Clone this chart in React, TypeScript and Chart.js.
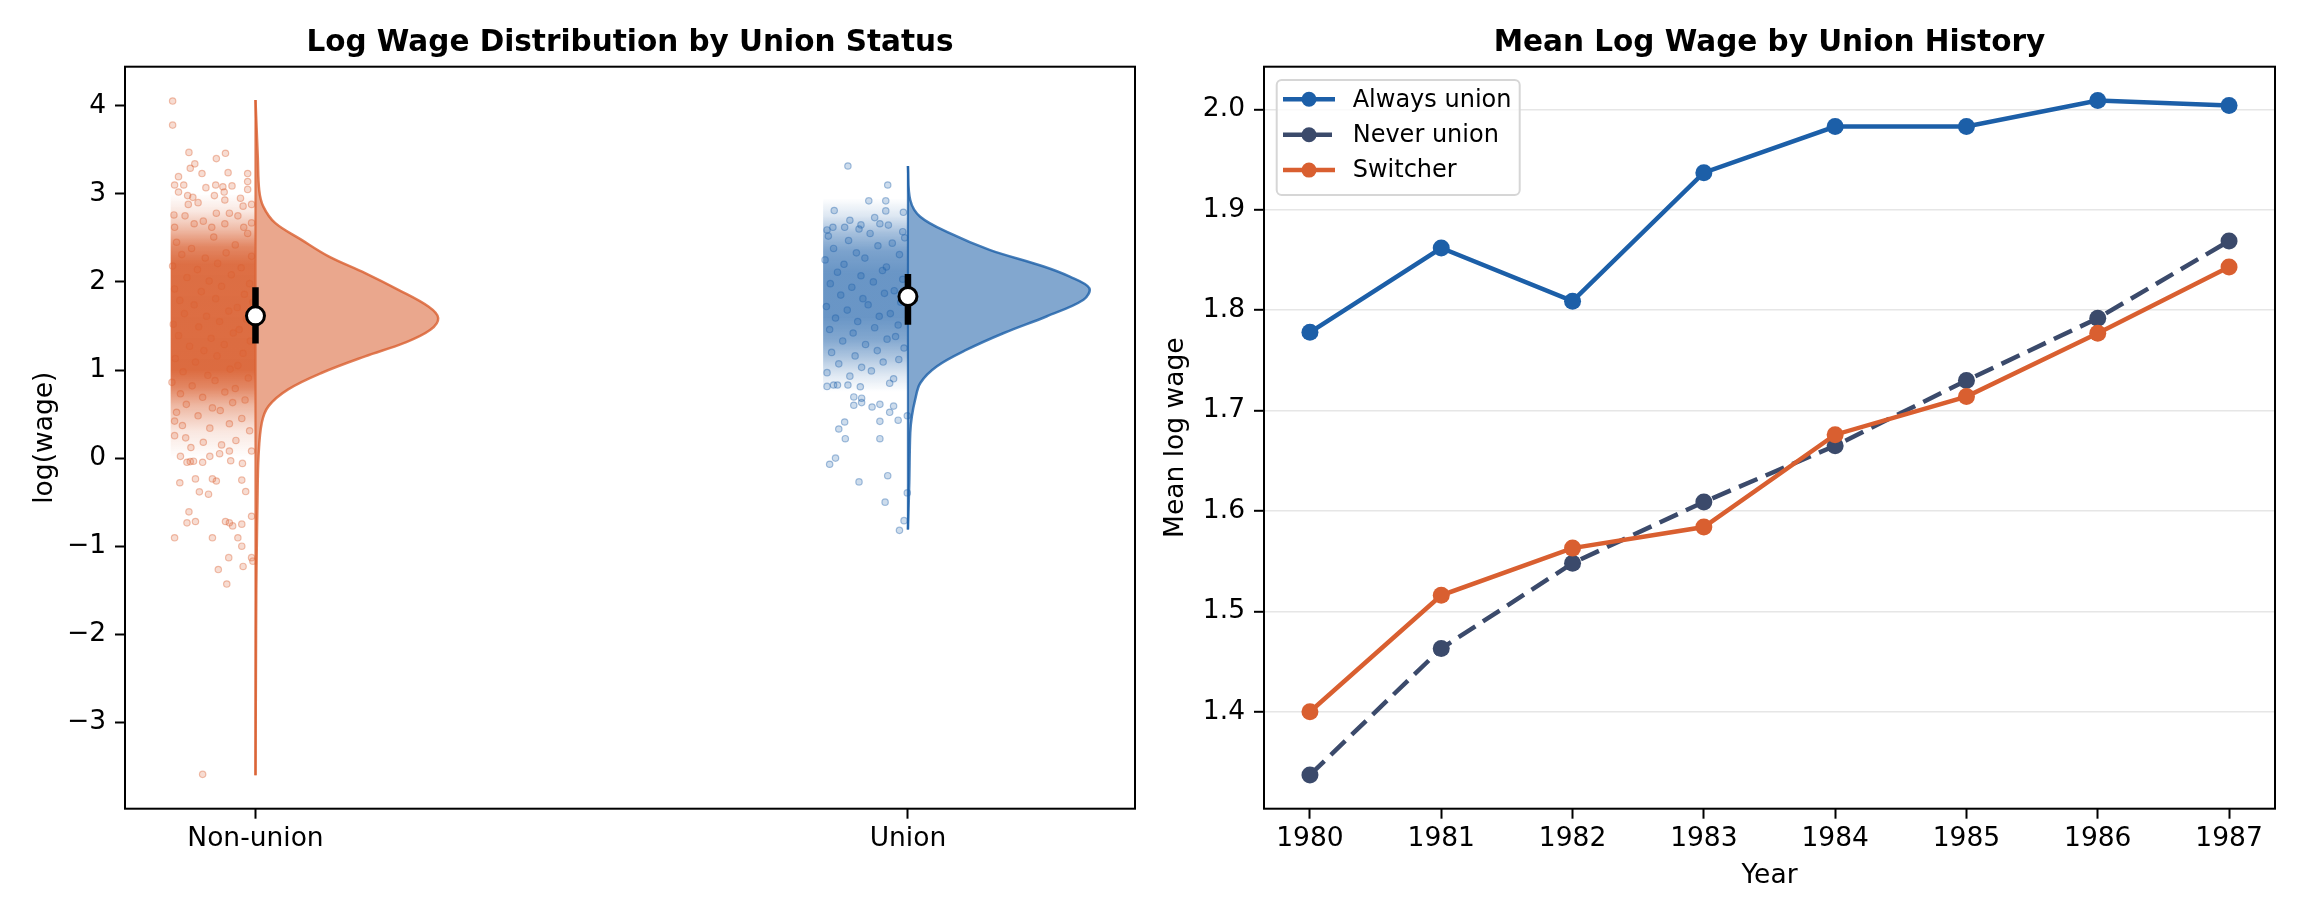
import { useEffect, useRef } from "react";
import { Chart, registerables } from "chart.js";

Chart.register(...registerables);

const FONT = "'DejaVu Sans', 'Liberation Sans', sans-serif";
Chart.defaults.font.family = FONT;
Chart.defaults.color = "#000";

// ---------------- Left panel data ----------------
const groups = ["Non-union", "Union"];
const yTicksLeft = [-3, -2, -1, 0, 1, 2, 3, 4];

// violin half-profile (value, half width in category units)
const nonUnionViolinY = [4.065, 3.42, 3.04, 2.855, 2.67, 2.48, 2.29, 2.1, 1.91, 1.72, 1.59, 1.457, 1.31, 1.155, 0.966, 0.78, 0.59, 0.4, 0.02, -0.5, -1.0, -1.5, -2.5, -3.6];
const nonUnionViolinW = [0, 0.0035, 0.0057, 0.012, 0.03, 0.07, 0.112, 0.168, 0.219, 0.265, 0.28, 0.268, 0.229, 0.168, 0.101, 0.05, 0.02, 0.0096, 0.0046, 0.003, 0.002, 0.0012, 0.0006, 0];
const unionViolinY = [3.316, 2.93, 2.74, 2.553, 2.364, 2.175, 2.06, 1.93, 1.797, 1.61, 1.42, 1.23, 1.04, 0.853, 0.663, 0.474, 0.286, -0.28, -0.81];
const unionViolinW = [0, 0.0035, 0.0188, 0.064, 0.125, 0.208, 0.248, 0.278, 0.269, 0.213, 0.147, 0.09, 0.044, 0.019, 0.011, 0.006, 0.0035, 0.002, 0];

// quartiles and median
const nonUnionBox = [1.3, 1.615, 1.94];
const unionBox = [1.514, 1.835, 2.09];

// density of the dense jittered cloud (value, opacity)
const nonUnionDensityY = [3.0, 2.8, 2.6, 2.4, 2.2, 1.0, 0.8, 0.6, 0.3, 0.0];
const nonUnionDensityA = [0, 0.15, 0.42, 0.75, 0.9, 0.92, 0.75, 0.45, 0.15, 0];
const unionDensityY = [2.95, 2.75, 2.55, 2.35, 2.1, 1.6, 1.35, 1.15, 0.95, 0.75];
const unionDensityA = [0, 0.15, 0.4, 0.58, 0.66, 0.66, 0.55, 0.36, 0.15, 0];
const jitterSpan = [-0.13, 0];

// individual jittered points [offset, log wage]
const nonUnionPoints: [number, number][] = [
  [-0.127, 4.053], [-0.127, 3.78], [-0.102, 3.47], [-0.046, 3.46], [-0.06, 3.4], [-0.093, 3.34], [-0.1, 3.29],
  [-0.042, 3.24], [-0.082, 3.23], [-0.012, 3.23], [-0.118, 3.195], [-0.012, 3.14], [-0.124, 3.1], [-0.11, 3.1],
  [-0.076, 3.07], [-0.061, 3.1], [-0.05, 3.08], [-0.036, 3.09], [-0.012, 3.05], [-0.118, 3.02], [-0.104, 2.98],
  [-0.063, 2.98], [-0.096, 2.96], [-0.048, 3.02], [-0.023, 2.95], [-0.047, 2.93], [-0.088, 2.9], [-0.006, 2.88],
  [-0.019, 2.86], [-0.103, 2.88], [-0.125, 2.76], [-0.06, 2.78], [-0.04, 2.78], [-0.027, 2.75], [-0.006, 2.67],
  [-0.108, 2.75], [-0.08, 2.69], [-0.094, 2.66], [-0.047, 2.66], [-0.124, 2.62], [-0.018, 2.62], [-0.067, 2.62],
  [-0.121, 2.45], [-0.098, 2.38], [-0.064, 2.51], [-0.031, 2.42], [-0.012, 2.55], [-0.113, 2.31], [-0.077, 2.27],
  [-0.045, 2.33], [-0.006, 2.29], [-0.127, 2.18], [-0.089, 2.14], [-0.058, 2.21], [-0.022, 2.16], [-0.105, 2.05],
  [-0.071, 2.01], [-0.037, 2.08], [-0.009, 1.98], [-0.124, 1.92], [-0.083, 1.89], [-0.052, 1.95], [-0.017, 1.86],
  [-0.116, 1.79], [-0.094, 1.74], [-0.061, 1.81], [-0.028, 1.71], [-0.004, 1.77], [-0.109, 1.64], [-0.075, 1.61],
  [-0.041, 1.67], [-0.014, 1.58], [-0.126, 1.52], [-0.087, 1.49], [-0.055, 1.55], [-0.025, 1.46], [-0.118, 1.39],
  [-0.068, 1.36], [-0.034, 1.42], [-0.008, 1.33], [-0.101, 1.27], [-0.079, 1.22], [-0.048, 1.29], [-0.019, 1.19],
  [-0.123, 1.13], [-0.092, 1.09], [-0.059, 1.16], [-0.027, 1.05], [-0.111, 0.98], [-0.073, 0.94], [-0.039, 1.01],
  [-0.011, 0.91], [-0.128, 0.86], [-0.097, 0.82], [-0.062, 0.88], [-0.031, 0.79], [-0.115, 0.73], [-0.081, 0.69],
  [-0.047, 0.75], [-0.016, 0.66], [-0.106, 0.61], [-0.066, 0.57], [-0.035, 0.63], [-0.121, 0.52], [-0.088, 0.48],
  [-0.054, 0.54], [-0.021, 0.45], [-0.124, 0.42], [-0.112, 0.37], [-0.07, 0.34], [-0.04, 0.39], [-0.009, 0.31],
  [-0.124, 0.255], [-0.107, 0.23], [-0.115, 0.02], [-0.1, -0.04], [-0.095, -0.035], [-0.07, 0.02], [-0.02, -0.06],
  [-0.055, 0.05], [-0.04, 0.08], [-0.006, 0.08], [-0.099, 0.12], [-0.052, 0.15], [-0.08, 0.18], [-0.03, 0.2],
  [-0.105, -0.048], [-0.081, -0.048], [-0.038, -0.03], [-0.116, -0.28], [-0.092, -0.236], [-0.066, -0.236],
  [-0.06, -0.26], [-0.021, -0.25], [-0.086, -0.383], [-0.072, -0.41], [-0.015, -0.38], [-0.102, -0.61],
  [-0.105, -0.735], [-0.092, -0.72], [-0.046, -0.72], [-0.04, -0.735], [-0.035, -0.77], [-0.021, -0.75],
  [-0.006, -0.66], [-0.124, -0.905], [-0.066, -0.905], [-0.027, -0.905], [-0.021, -1.0], [-0.006, -1.13],
  [-0.041, -1.13], [-0.004, -1.17], [-0.019, -1.23], [-0.057, -1.265], [-0.044, -1.43], [-0.081, -3.59],
];
const unionPoints: [number, number][] = [
  [-0.092, 3.316], [-0.031, 3.1], [-0.06, 2.92], [-0.034, 2.92], [-0.034, 2.806], [-0.113, 2.81], [-0.089, 2.7],
  [-0.051, 2.73], [-0.007, 2.79], [-0.072, 2.647], [-0.03, 2.645], [-0.124, 2.59], [-0.097, 2.62], [-0.008, 2.57],
  [-0.115, 2.62], [-0.043, 2.66], [-0.075, 2.6],
  [-0.122, 2.52], [-0.091, 2.47], [-0.058, 2.55], [-0.024, 2.44], [-0.005, 2.5], [-0.114, 2.38], [-0.079, 2.33],
  [-0.046, 2.41], [-0.013, 2.31], [-0.127, 2.25], [-0.098, 2.2], [-0.066, 2.27], [-0.033, 2.17], [-0.108, 2.11],
  [-0.072, 2.07], [-0.039, 2.13], [-0.008, 2.03], [-0.119, 1.98], [-0.086, 1.94], [-0.053, 2.0], [-0.021, 1.9],
  [-0.103, 1.85], [-0.069, 1.81], [-0.036, 1.87], [-0.011, 1.77], [-0.125, 1.72], [-0.093, 1.68], [-0.061, 1.74],
  [-0.027, 1.64], [-0.111, 1.59], [-0.077, 1.55], [-0.044, 1.61], [-0.015, 1.51], [-0.12, 1.46], [-0.084, 1.42],
  [-0.051, 1.48], [-0.019, 1.38], [-0.1, 1.33], [-0.065, 1.29], [-0.032, 1.35], [-0.006, 1.25], [-0.117, 1.2],
  [-0.081, 1.16], [-0.047, 1.22], [-0.014, 1.12], [-0.106, 1.07], [-0.071, 1.03], [-0.038, 1.09], [-0.124, 0.97],
  [-0.089, 0.93], [-0.056, 0.99], [-0.022, 0.9],
  [-0.124, 0.814], [-0.114, 0.83], [-0.108, 0.83], [-0.092, 0.83], [-0.073, 0.81], [-0.028, 0.85], [-0.083, 0.694],
  [-0.071, 0.68], [-0.071, 0.63], [-0.083, 0.6], [-0.055, 0.58], [-0.043, 0.61], [-0.022, 0.59], [-0.028, 0.52],
  [-0.043, 0.417], [-0.015, 0.43], [-0.001, 0.48], [-0.097, 0.41], [-0.106, 0.33], [-0.096, 0.22], [-0.043, 0.22],
  [-0.111, 0.0], [-0.12, -0.07], [-0.031, -0.2], [-0.075, -0.27], [-0.001, -0.395], [-0.035, -0.5], [-0.006, -0.71],
  [-0.013, -0.82],
];

// ---------------- Right panel data ----------------
const years = [1980, 1981, 1982, 1983, 1984, 1985, 1986, 1987];
const alwaysUnion = [1.778, 1.862, 1.809, 1.937, 1.983, 1.983, 2.009, 2.004];
const neverUnion = [1.337, 1.463, 1.548, 1.609, 1.665, 1.73, 1.792, 1.869];
const switcher = [1.4, 1.516, 1.563, 1.584, 1.676, 1.714, 1.777, 1.843];
const seriesLabels = ["Always union", "Never union", "Switcher"];
const yTicksRight = [1.4, 1.5, 1.6, 1.7, 1.8, 1.9, 2.0];

// ---------------- Styles ----------------
const ORANGE = [217, 95, 48];
const BLUE = [28, 95, 168];
const SLATE = "#3b4a6b";
const rgba = (c: number[], a: number) => `rgba(${c[0]},${c[1]},${c[2]},${a})`;
const TICK_FONT = { family: FONT, size: 26.5 };

const frameTitlePlugin = (title: string) => ({
  id: "frameTitle",
  afterDraw(chart: any) {
    const { ctx, chartArea: a } = chart;
    ctx.save();
    ctx.strokeStyle = "#000";
    ctx.lineWidth = 2;
    ctx.strokeRect(a.left, a.top, a.right - a.left, a.bottom - a.top);
    ctx.font = `bold 29.5px ${FONT}`;
    ctx.fillStyle = "#000";
    ctx.textAlign = "center";
    ctx.textBaseline = "alphabetic";
    ctx.fillText(title, (a.left + a.right) / 2, 51);
    ctx.restore();
  },
});

function densityFill(ys: number[], as: number[], color: number[]) {
  return (c: any) => {
    const chart = c.chart;
    const ys0 = chart.scales?.y;
    if (!chart.chartArea || !ys0) return rgba(color, 0.5);
    const p0 = ys0.getPixelForValue(ys[0]);
    const p1 = ys0.getPixelForValue(ys[ys.length - 1]);
    const g = chart.ctx.createLinearGradient(0, p0, 0, p1);
    ys.forEach((v, i) => {
      const off = (ys0.getPixelForValue(v) - p0) / (p1 - p0);
      g.addColorStop(Math.min(1, Math.max(0, off)), rgba(color, as[i]));
    });
    return g;
  };
}

function groupDatasets(
  center: number,
  color: number[],
  vy: number[],
  vw: number[],
  box: number[],
  pts: [number, number][],
  dy: number[],
  da: number[]
) {
  return [
    {
      type: "line",
      data: [
        { x: center + jitterSpan[0], y: dy[0] },
        { x: center + jitterSpan[1], y: dy[0] },
        { x: center + jitterSpan[1], y: dy[dy.length - 1] },
        { x: center + jitterSpan[0], y: dy[dy.length - 1] },
      ],
      fill: "shape",
      backgroundColor: densityFill(dy, da, color),
      borderWidth: 0,
      pointRadius: 0,
      tension: 0,
      order: 6,
    },
    {
      type: "scatter",
      data: pts.map(([j, v]) => ({ x: center + j, y: v })),
      pointRadius: 3.2,
      pointBackgroundColor: rgba(color, 0.22),
      pointBorderColor: rgba(color, 0.38),
      pointBorderWidth: 1.2,
      order: 5,
    },
    {
      type: "line",
      data: vy.map((v, i) => ({ x: center + vw[i], y: v })),
      fill: "shape",
      backgroundColor: rgba(color, 0.55),
      borderColor: rgba(color, 0.8),
      borderWidth: 2.5,
      pointRadius: 0,
      tension: 0.35,
      order: 4,
    },
    {
      type: "line",
      data: [
        { x: center, y: vy[0] },
        { x: center, y: vy[vy.length - 1] },
      ],
      borderColor: rgba(color, 0.8),
      borderWidth: 2.2,
      pointRadius: 0,
      order: 3,
    },
    {
      type: "line",
      data: [
        { x: center, y: box[0] },
        { x: center, y: box[2] },
      ],
      borderColor: "#000",
      borderWidth: 6.5,
      borderCapStyle: "butt",
      pointRadius: 0,
      order: 2,
    },
    {
      type: "scatter",
      data: [{ x: center, y: box[1] }],
      pointRadius: 9,
      pointBackgroundColor: "#fff",
      pointBorderColor: "#000",
      pointBorderWidth: 3,
      order: 1,
    },
  ];
}

function leftConfig(): any {
  return {
    type: "line",
    data: {
      datasets: [
        ...groupDatasets(0, ORANGE, nonUnionViolinY, nonUnionViolinW, nonUnionBox, nonUnionPoints, nonUnionDensityY, nonUnionDensityA),
        ...groupDatasets(1, BLUE, unionViolinY, unionViolinW, unionBox, unionPoints, unionDensityY, unionDensityA),
      ],
    },
    options: {
      animation: false,
      responsive: true,
      maintainAspectRatio: false,
      layout: { padding: { top: 66.7, right: 17, left: 0, bottom: 0 } },
      plugins: { legend: { display: false }, tooltip: { enabled: false }, title: { display: false } },
      scales: {
        x: {
          type: "linear",
          min: -0.2,
          max: 1.348,
          afterBuildTicks: (s: any) => {
            s.ticks = groups.map((_, i) => ({ value: i }));
          },
          afterFit: (s: any) => {
            s.height = 112.3;
          },
          ticks: { font: TICK_FONT, color: "#000", padding: 5, maxRotation: 0, callback: (_v: any, i: number) => groups[i] },
          grid: { drawOnChartArea: false, drawTicks: true, tickLength: 10, tickColor: "#000", tickWidth: 2 },
          border: { display: false },
        },
        y: {
          type: "linear",
          min: -3.98,
          max: 4.443,
          afterBuildTicks: (s: any) => {
            s.ticks = yTicksLeft.map((v) => ({ value: v }));
          },
          afterFit: (s: any) => {
            s.width = 125;
          },
          ticks: {
            font: TICK_FONT,
            color: "#000",
            padding: 9,
            callback: (v: any) => {
              const n = Number(v);
              return n < 0 ? "\u2212" + Math.abs(n) : String(n);
            },
          },
          grid: { drawOnChartArea: false, drawTicks: true, tickLength: 10, tickColor: "#000", tickWidth: 2 },
          border: { display: false },
          title: { display: true, text: "log(wage)", font: { family: FONT, size: 26.5 }, color: "#000", padding: { top: 29, bottom: 0 } },
        },
      },
    },
    plugins: [frameTitlePlugin("Log Wage Distribution by Union Status")],
  };
}

const legendPlugin = {
  id: "mplLegend",
  afterDatasetsDraw(chart: any) {
    const { ctx, chartArea: a } = chart;
    const x0 = a.left + 12.7;
    const y0 = a.top + 13.3;
    ctx.save();
    ctx.beginPath();
    ctx.roundRect(x0, y0, 243, 115, 5);
    ctx.fillStyle = "rgba(255,255,255,0.8)";
    ctx.fill();
    ctx.strokeStyle = "#d6d6d6";
    ctx.lineWidth = 2;
    ctx.stroke();
    chart.data.datasets.forEach((ds: any, i: number) => {
      const y = a.top + 32.6 + i * 35.4;
      ctx.strokeStyle = ds.borderColor;
      ctx.lineWidth = 4.5;
      ctx.setLineDash(ds.borderDash || []);
      ctx.beginPath();
      ctx.moveTo(a.left + 19, y);
      ctx.lineTo(a.left + 71, y);
      ctx.stroke();
      ctx.setLineDash([]);
      ctx.fillStyle = ds.pointBackgroundColor;
      ctx.beginPath();
      ctx.arc(a.left + 45, y, 7.5, 0, Math.PI * 2);
      ctx.fill();
      ctx.fillStyle = "#000";
      ctx.font = `24px ${FONT}`;
      ctx.textAlign = "left";
      ctx.textBaseline = "middle";
      ctx.fillText(ds.label, a.left + 88.7, y + 1);
    });
    ctx.restore();
  },
};

function rightConfig(): any {
  const mk = (label: string, vals: number[], color: string, order: number, dash?: number[]) => ({
    label,
    data: years.map((yr, i) => ({ x: yr, y: vals[i] })),
    borderColor: color,
    backgroundColor: color,
    borderWidth: 4.5,
    borderDash: dash,
    pointRadius: 8.5,
    pointBackgroundColor: color,
    pointBorderWidth: 0,
    tension: 0,
    fill: false,
    order,
  });
  return {
    type: "line",
    data: {
      datasets: [
        mk(seriesLabels[0], alwaysUnion, rgba(BLUE, 1), 3),
        mk(seriesLabels[1], neverUnion, SLATE, 2, [20, 9]),
        mk(seriesLabels[2], switcher, rgba(ORANGE, 1), 1),
      ],
    },
    options: {
      animation: false,
      responsive: true,
      maintainAspectRatio: false,
      layout: { padding: { top: 66.7, right: 29, left: 0, bottom: 0 } },
      plugins: { legend: { display: false }, tooltip: { enabled: false }, title: { display: false } },
      scales: {
        x: {
          type: "linear",
          min: 1979.65,
          max: 1987.35,
          afterBuildTicks: (s: any) => {
            s.ticks = years.map((v) => ({ value: v }));
          },
          afterFit: (s: any) => {
            s.height = 112.3;
          },
          ticks: { font: TICK_FONT, color: "#000", padding: 5, maxRotation: 0, callback: (v: any) => String(v) },
          grid: { drawOnChartArea: false, drawTicks: true, tickLength: 10, tickColor: "#000", tickWidth: 2 },
          border: { display: false },
          title: { display: true, text: "Year", font: { family: FONT, size: 26.5 }, color: "#000", padding: { top: 0, bottom: 29 } },
        },
        y: {
          type: "linear",
          min: 1.3034,
          max: 2.0426,
          afterBuildTicks: (s: any) => {
            s.ticks = yTicksRight.map((v) => ({ value: v }));
          },
          afterFit: (s: any) => {
            s.width = 112;
          },
          ticks: { font: TICK_FONT, color: "#000", padding: 9, callback: (v: any) => Number(v).toFixed(1) },
          grid: { drawOnChartArea: true, color: "#e6e6e6", lineWidth: 1.6, drawTicks: true, tickLength: 10, tickColor: "#000", tickWidth: 2 },
          border: { display: false },
          title: { display: true, text: "Mean log wage", font: { family: FONT, size: 26.5 }, color: "#000", padding: { top: 8, bottom: 0 } },
        },
      },
    },
    plugins: [legendPlugin, frameTitlePlugin("Mean Log Wage by Union History")],
  };
}

export default function App() {
  const leftRef = useRef<HTMLCanvasElement>(null);
  const rightRef = useRef<HTMLCanvasElement>(null);
  useEffect(() => {
    document.body.style.margin = "0";
    const c1 = new Chart(leftRef.current as HTMLCanvasElement, leftConfig());
    const c2 = new Chart(rightRef.current as HTMLCanvasElement, rightConfig());
    return () => {
      c1.destroy();
      c2.destroy();
    };
  }, []);
  return (
    <div style={{ position: "fixed", left: 0, top: 0, width: 2304, height: 921, background: "#fff" }}>
      <div style={{ position: "absolute", left: 0, top: 0, width: 1152, height: 921 }}>
        <canvas ref={leftRef} />
      </div>
      <div style={{ position: "absolute", left: 1152, top: 0, width: 1152, height: 921 }}>
        <canvas ref={rightRef} />
      </div>
    </div>
  );
}
